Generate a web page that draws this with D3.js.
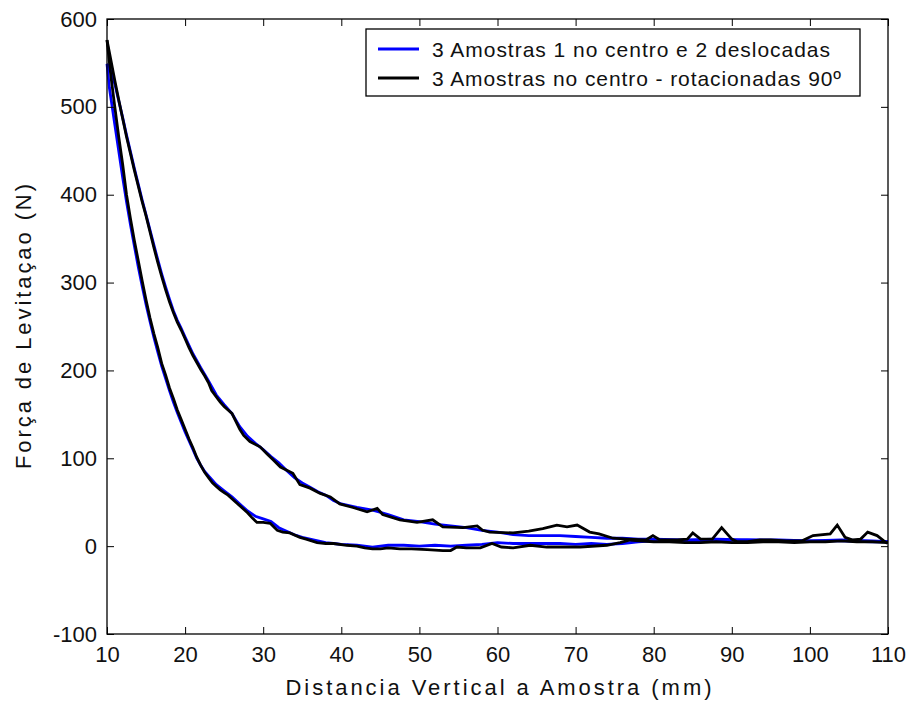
<!DOCTYPE html>
<html>
<head>
<meta charset="utf-8">
<script src="https://cdn.jsdelivr.net/npm/d3@7"></script>
<style>
  html, body { margin: 0; padding: 0; background: #fff; }
  svg { display: block; font-family: "Liberation Sans", Arial, sans-serif; }
</style>
</head>
<body>
<svg id="chart" width="910" height="706"></svg>
<script>
// Levitation force vs. vertical distance: approach and retreat branches per configuration
const xTicks = [10, 20, 30, 40, 50, 60, 70, 80, 90, 100, 110];
const yTicks = [-100, 0, 100, 200, 300, 400, 500, 600];

const seriesNames = [
  "3 Amostras 1 no centro e 2 deslocadas",
  "3 Amostras no centro - rotacionadas 90º"
];
const seriesColors = ["#0000ff", "#000000"];

// [distance mm, force N] — configuration 1 (blue)
const blueApproach = [
  [10,549],[10.3,522],[10.5,510],[11,480],[11.5,450],[12,420],[12.5,392],[13,366],[13.5,342],
  [14,318],[14.5,296],[15,275],[15.5,256],[16,238],[16.5,221],[17,205],[17.5,191],[18,177],
  [18.5,164],[19,152],[19.5,141],[20,130],[20.5,120],[21,110],[21.5,100],[22,92],[22.5,85],
  [23,80],[24,70],[25,63],[26,56],[27,48],[28,40],[29,34],[30,31],[31,28],[32,21],[33,17],
  [34,13],[35,10],[36,8],[37,6],[38,4],[39,3],[40,2],[42,1],[44,-1],[46,1],[48,1],[50,0],
  [52,1],[54,0],[56,1],[58,2],[60,4],[62,3],[64,3],[66,3],[68,3],[70,2],[72,3],[74,2],
  [76,3],[78,5],[80,6],[84,6],[88,6],[92,7],[96,6],[100,6],[104,6],[108,5],[110,5]
];
const blueRetreat = [
  [10,549],[10.3,545],[10.7,535],[11,526],[11.5,507],[12,488],[12.5,468],[13,449],[13.5,430],
  [14,412],[14.5,394],[15,377],[15.5,360],[16,343],[16.5,326],[17,310],[17.5,295],[18,281],
  [18.5,268],[19,257],[19.5,248],[20,238],[21,219],[22,203],[23,188],[24,172],[25,161],
  [26,151],[27,136],[28,125],[29,117],[30,110],[31,102],[32,95],[33,86],[34,78],[35,72],
  [36,67],[37,62],[38,58],[39,52],[40,48],[42,44],[44,41],[46,36],[48,30],[50,28],[52,25],
  [54,23],[56,21],[58,18],[60,16],[62,13],[64,12],[66,12],[68,12],[70,11],[72,10],[74,9],
  [76,9],[78,8],[80,8],[84,7],[88,8],[92,7],[96,7],[100,6],[104,7],[108,6],[110,5]
];

// [distance mm, force N] — configuration 2 (black)
const blackApproach = [
  [10,576],[10.5,535],[11,500],[11.5,466],[12,435],[12.5,400],[13,373],[13.5,348],[14,325],
  [14.5,302],[15,280],[15.5,260],[16,242],[16.5,226],[17,208],[17.5,195],[18,180],[18.5,168],
  [19,155],[19.5,144],[20,133],[20.5,122],[21,112],[21.5,101],[22,92],[22.5,84],[23,78],
  [23.5,72],[24,68],[24.5,64],[25,61],[25.5,58],[26,54],[26.5,50],[27,46],[27.5,42],[28,38],
  [28.5,33],[29.2,27],[30,27],[30.9,26],[31.8,18],[32.5,16],[33.4,15],[34.7,10],[35.5,8],
  [36.9,4],[38,3],[39,3],[40.7,1],[42,0],[43,-2],[44,-3],[45,-3],[46,-2],[47.5,-3],[49,-3],
  [51,-4],[53,-5],[54,-5],[54.8,-1],[56,-2],[57.8,-2],[59.3,3],[60.5,-1],[62,-2],[64.2,1],
  [66.3,-1],[68,-1],[70.6,-1],[74,1],[75.7,4],[77,7],[78,6],[80,5],[82,5],[84,4],[86,4],
  [88,5],[90,4],[92,4],[94,5],[96,5],[98,4],[100,5],[102,5],[104,6],[106,5],[108,5],[110,4]
];
const blackRetreat = [
  [10,576],[10.5,553],[11,530],[11.5,508],[12,487],[12.5,466],[13,447],[13.5,428],[14,410],
  [14.5,392],[15,376],[15.5,358],[16,340],[16.5,323],[17,307],[17.5,292],[18,278],[18.5,266],
  [19,255],[19.5,246],[20,236],[20.5,226],[21,217],[21.5,209],[22,201],[22.5,194],[23,186],
  [23.4,177],[24,170],[24.5,164],[25,159],[25.5,155],[26,151],[26.5,142],[27,133],[27.5,126],
  [28.3,119],[29.6,113],[30.5,105],[31.3,98],[32.2,90],[33.8,83],[34.7,70],[36,66],[37.3,60],
  [38.6,56],[39.8,48],[41.5,44],[43.3,39],[44.6,43],[45.3,36],[47.5,30],[49.7,27],[51.7,30],
  [53,22],[55.6,21],[57.4,23],[58.1,18],[59,16],[62,15],[64,17],[65.8,20],[67.6,24],[68.9,22],
  [70.2,24],[71.8,16],[73,14],[74.8,9],[76.6,8],[79,7],[79.9,12],[80.8,7],[83,7],[84.3,8],
  [85,15],[86,8],[87.5,8],[88.7,21],[90,8],[90.7,5],[92,5],[93.6,7],[95,7],[97,6],[99,6],
  [100.4,12],[102.6,14],[103.5,24],[104.5,10],[105.5,7],[106.5,8],[107.4,16],[108.6,12],[109.9,3]
];

const series = [
  { name: seriesNames[0], color: seriesColors[0], branches: [blueApproach, blueRetreat] },
  { name: seriesNames[1], color: seriesColors[1], branches: [blackApproach, blackRetreat] }
];

const svg = d3.select("#chart");
const plot = { left: 107, top: 19, right: 888, bottom: 634 };

const x = d3.scaleLinear().domain([10, 110]).range([plot.left, plot.right]);
const y = d3.scaleLinear().domain([-100, 600]).range([plot.bottom, plot.top]);

// Curves
const line = d3.line().x(d => x(d[0])).y(d => y(d[1]));
const curves = svg.append("g");
series.forEach(s => {
  s.branches.forEach(b => {
    curves.append("path")
      .attr("d", line(b))
      .attr("fill", "none")
      .attr("stroke", s.color)
      .attr("stroke-width", 2.8)
      .attr("stroke-linejoin", "miter");
  });
});

// Axes with inward ticks on all four sides
const tickLen = 7;
const fmt = d => String(d);
const styleAxis = g => {
  g.select(".domain").remove();
  g.selectAll(".tick line").attr("stroke", "#000").attr("stroke-width", 1);
  g.selectAll(".tick text").attr("fill", "#111").style("font-size", "22px")
    .style("font-family", '"Liberation Sans", Arial, sans-serif');
};

svg.append("g")
  .attr("transform", `translate(0,${plot.bottom})`)
  .call(d3.axisBottom(x).tickValues(xTicks).tickFormat(fmt).tickSizeInner(-tickLen).tickSizeOuter(0).tickPadding(12))
  .call(styleAxis);

svg.append("g")
  .attr("transform", `translate(0,${plot.top})`)
  .call(d3.axisTop(x).tickValues(xTicks).tickFormat("").tickSizeInner(-tickLen).tickSizeOuter(0))
  .call(styleAxis);

svg.append("g")
  .attr("transform", `translate(${plot.left},0)`)
  .call(d3.axisLeft(y).tickValues(yTicks).tickFormat(fmt).tickSizeInner(-tickLen).tickSizeOuter(0).tickPadding(10))
  .call(styleAxis);

svg.append("g")
  .attr("transform", `translate(${plot.right},0)`)
  .call(d3.axisRight(y).tickValues(yTicks).tickFormat("").tickSizeInner(-tickLen).tickSizeOuter(0))
  .call(styleAxis);

// Frame
svg.append("rect")
  .attr("x", plot.left).attr("y", plot.top)
  .attr("width", plot.right - plot.left).attr("height", plot.bottom - plot.top)
  .attr("fill", "none").attr("stroke", "#000").attr("stroke-width", 1.3);

// Axis titles
svg.append("text")
  .attr("x", (plot.left + plot.right) / 2 + 1)
  .attr("y", 695)
  .attr("text-anchor", "middle")
  .attr("fill", "#111")
  .attr("textLength", 426).attr("lengthAdjust", "spacing")
  .style("font-size", "22px")
  .text("Distancia Vertical a Amostra (mm)");

svg.append("text")
  .attr("transform", `translate(31,${(plot.top + plot.bottom) / 2}) rotate(-90)`)
  .attr("text-anchor", "middle")
  .attr("fill", "#111")
  .attr("textLength", 285).attr("lengthAdjust", "spacing")
  .style("font-size", "22px")
  .text("Força de Levitaçao (N)");

// Legend
const legend = svg.append("g");
legend.append("rect")
  .attr("x", 366).attr("y", 29).attr("width", 494).attr("height", 67)
  .attr("fill", "#fff").attr("stroke", "#000").attr("stroke-width", 1.3);

const legendRows = [49, 78];
const legendTextLen = [398, 409];
series.forEach((s, i) => {
  legend.append("line")
    .attr("x1", 378).attr("x2", 419)
    .attr("y1", legendRows[i]).attr("y2", legendRows[i])
    .attr("stroke", s.color).attr("stroke-width", 2.8);
  legend.append("text")
    .attr("x", 432).attr("y", legendRows[i] + 8)
    .attr("fill", "#111")
    .attr("textLength", legendTextLen[i]).attr("lengthAdjust", "spacing")
    .style("font-size", "21px")
    .text(s.name);
});
</script>
</body>
</html>
